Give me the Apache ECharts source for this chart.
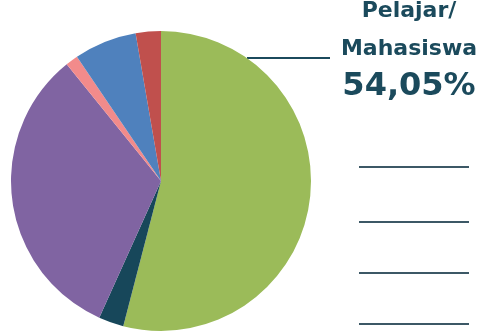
<!DOCTYPE html>
<html>
<head>
<meta charset="utf-8">
<script src="https://cdn.jsdelivr.net/npm/echarts@6/dist/echarts.min.js"></script>
<style>
html,body{margin:0;padding:0;background:#fff;}
#pie{width:489px;height:332px;}
</style>
</head>
<body>
<div id="pie"></div>
<script>
// data (percent)
var categories = ['Pelajar/Mahasiswa', 'PNS', 'Wiraswasta', 'Petani', 'Karyawan Swasta', 'Lainnya'];
var values = [54.05, 2.70, 32.43, 1.35, 6.76, 2.71];
var colors = ['#9bbb59', '#17475a', '#8064a2', '#f28b8b', '#4f81bd', '#c0504d'];

var myChart = echarts.init(document.getElementById('pie'));

var seriesData = categories.map(function (name, i) {
    var item = { value: values[i], name: name };
    if (i !== 0) {
        item.label = { show: false };
        item.labelLine = { show: false };
    }
    return item;
});

var option = {
    animation: false,
    color: colors,
    series: [
        {
            type: 'pie',
            radius: 150,
            center: [161, 181],
            startAngle: 90,
            clockwise: true,
            silent: true,
            data: seriesData,
            label: {
                show: true,
                position: 'outside',
                overflow: 'none',
                edgeDistance: 0,
                color: '#1b4a5c',
                align: 'center',
                formatter: function (p) {
                    return '{n|' + p.name.replace('/', '/\n') + '}\n{v|' +
                        p.value.toFixed(2).replace('.', ',') + '%}';
                },
                rich: {
                    n: { fontFamily: 'DejaVu Sans', fontWeight: 'bold', fontSize: 22, lineHeight: 38, color: '#1b4a5c', align: 'center' },
                    v: { fontFamily: 'DejaVu Sans', fontWeight: 'bold', fontSize: 32, lineHeight: 38, color: '#1b4a5c', align: 'center' }
                }
            },
            labelLine: {
                show: true,
                lineStyle: { color: '#1b4a5c', width: 2 }
            },
            labelLayout: function (params) {
                if (params.dataIndex !== 0) return {};
                return {
                    x: 409,
                    y: -8,
                    align: 'center',
                    verticalAlign: 'top',
                    labelLinePoints: [[247, 58], [330, 58], [330, 58]]
                };
            }
        }
    ],
    graphic: [167, 222, 273, 324].map(function (y) {
        return {
            type: 'line',
            shape: { x1: 359, y1: y, x2: 469, y2: y },
            style: { stroke: '#3c5866', lineWidth: 2 },
            silent: true
        };
    })
};

myChart.setOption(option);
</script>
</body>
</html>
